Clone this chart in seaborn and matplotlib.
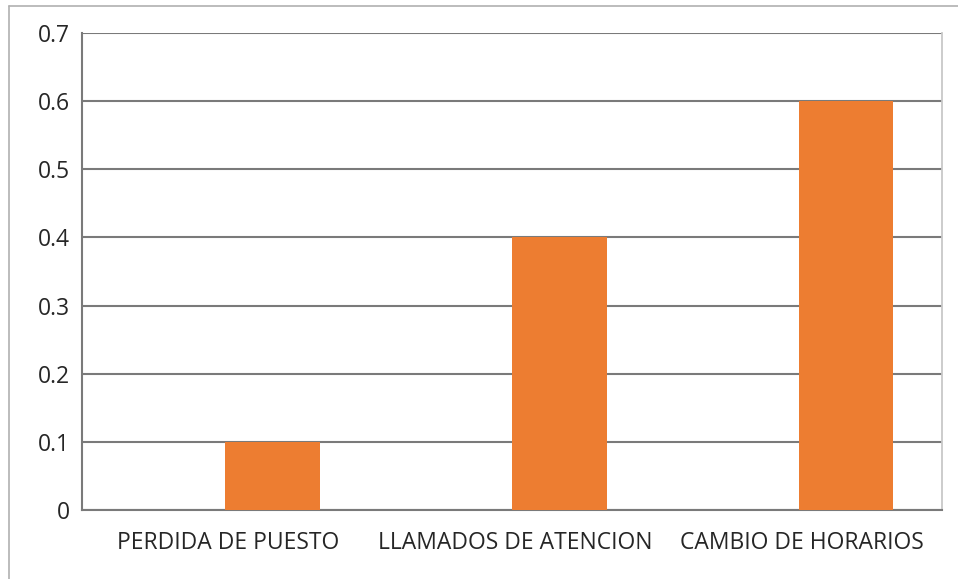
import pandas as pd
import matplotlib.pyplot as plt
import seaborn as sns
from matplotlib.lines import Line2D

# Datos (la primera serie está vacía, como en el original)
categorias = ['PERDIDA DE PUESTO', 'LLAMADOS DE ATENCION', 'CAMBIO DE HORARIOS']
serie_vacia = [0.0, 0.0, 0.0]
valores = [0.1, 0.4, 0.6]

df = pd.DataFrame({
    'categoria': categorias * 2,
    'serie': ['Serie1'] * 3 + ['Serie2'] * 3,
    'valor': serie_vacia + valores,
})

sns.set_style('white')
plt.rcParams['font.family'] = ['Open Sans', 'DejaVu Sans']

fig = plt.figure(figsize=(9.58, 5.79), dpi=100)
ax = fig.add_axes([0.0856, 0.1192, 0.8977, 0.8238])

sns.barplot(data=df, x='categoria', y='valor', hue='serie',
            palette=['#FFFFFF', '#ED7D31'], width=0.66, saturation=1,
            linewidth=0, legend=False, ax=ax, zorder=3)

ax.set_xlim(-0.5, 2.5)
ax.set_ylim(0, 0.7)
ax.set_yticks([0, 0.1, 0.2, 0.3, 0.4, 0.5, 0.6, 0.7])
ax.set_yticklabels(['0', '0.1', '0.2', '0.3', '0.4', '0.5', '0.6', '0.7'])
ax.yaxis.grid(True, color='#7a7a7a', linewidth=1.5, zorder=0)
ax.set_axisbelow(True)

# marcas del eje x entre categorías
ax.set_xticks([-0.5, 0.5, 1.5, 2.5])
ax.set_xticklabels([])
ax.set_xticks([0.01, 1.01, 2.01], minor=True)
ax.set_xticklabels(categorias, minor=True)
ax.tick_params(axis='x', which='minor', length=0, pad=15, labelsize=16.5, labelcolor='#262626')
ax.tick_params(axis='x', which='major', length=8, width=1.5, color='#7a7a7a', direction='out')
ax.tick_params(axis='y', length=8, width=1.5, color='#7a7a7a', direction='out',
               labelsize=16.5, labelcolor='#262626', pad=1)
ax.set_xlabel('')
ax.set_ylabel('')

for lado in ['left', 'bottom']:
    ax.spines[lado].set_color('#7a7a7a')
    ax.spines[lado].set_linewidth(1.5)
ax.spines['top'].set_visible(False)
ax.spines['right'].set_color('#c8c8c8')
ax.spines['right'].set_linewidth(1.3)

# borde del área del gráfico
fig.add_artist(Line2D([9 / 958, 1], [1 - 6 / 579, 1 - 6 / 579], color='#b0b0b0', linewidth=1.2))
fig.add_artist(Line2D([9 / 958, 9 / 958], [0, 1 - 6 / 579], color='#b0b0b0', linewidth=1.2))

fig.savefig('out.png', dpi=100)
